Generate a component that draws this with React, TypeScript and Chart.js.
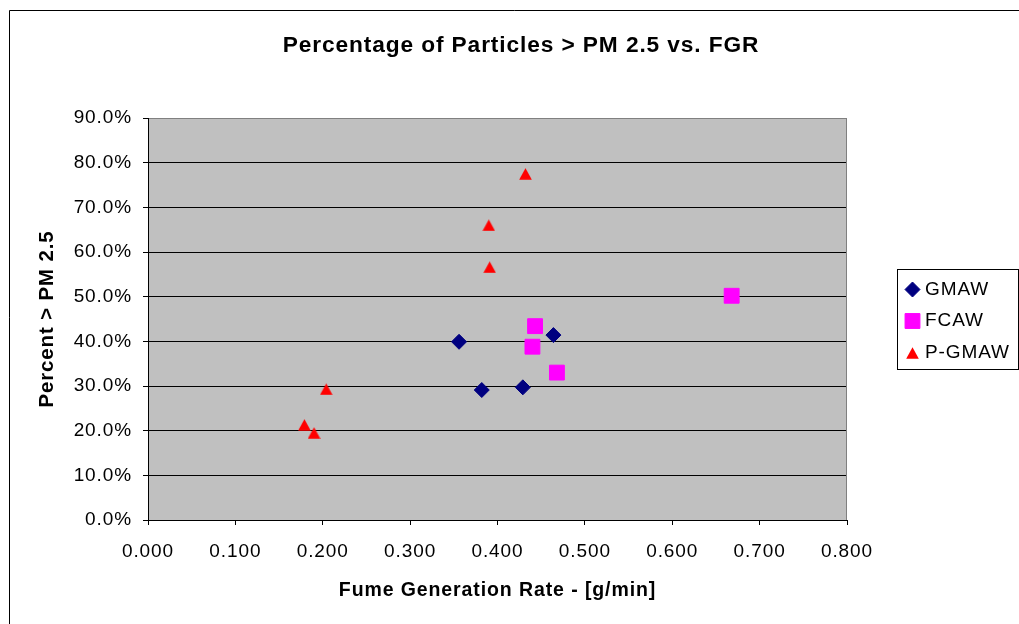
import React, { useEffect, useRef } from 'react';
import { Chart, registerables } from 'chart.js';
import { drawPoint } from 'chart.js/helpers';

Chart.register(...registerables);

// ---- data ----
const chartTitle = 'Percentage of Particles > PM 2.5 vs. FGR';
const xAxisTitle = 'Fume Generation Rate - [g/min]';
const yAxisTitle = 'Percent > PM 2.5';
const seriesNames = ['GMAW', 'FCAW', 'P-GMAW'];

const gmawX = [0.356, 0.382, 0.429, 0.464];
const gmawY = [39.9, 29.1, 29.7, 41.4];
const fcawX = [0.443, 0.44, 0.468, 0.668];
const fcawY = [43.4, 38.8, 33.0, 50.2];
const pgmawX = [0.432, 0.39, 0.391, 0.204, 0.179, 0.19];
const pgmawY = [77.5, 66.0, 56.6, 29.3, 21.3, 19.5];

const xMin = 0;
const xMax = 0.8;
const xStep = 0.1;
const yMin = 0;
const yMax = 90;
const yStep = 10;

// ---- styles ----
const FONT = "'Liberation Sans', Arial, Helvetica, sans-serif";
const SPACING = '0.9px';
const colors = ['#000080', '#FF00FF', '#FF0000'];
const radii = [7.5, 10.5, 6.7];

const toPoints = (xs: number[], ys: number[]) => xs.map((x, i) => ({ x, y: ys[i] }));

// triangle marker centred on its bounding box (like the original)
function makeTriangle(color: string): HTMLCanvasElement {
  const c = document.createElement('canvas');
  c.width = 13;
  c.height = 12;
  const g = c.getContext('2d')!;
  g.fillStyle = color;
  g.beginPath();
  g.moveTo(6.5, 0.3);
  g.lineTo(12.8, 11.7);
  g.lineTo(0.2, 11.7);
  g.closePath();
  g.fill();
  return c;
}

const decor = {
  id: 'decor',
  beforeUpdate(chart: any) {
    chart.ctx.letterSpacing = SPACING;
  },
  beforeDraw(chart: any) {
    const { ctx, chartArea: a, width, height } = chart;
    ctx.letterSpacing = SPACING;
    ctx.save();
    // outer border (cropped chart frame)
    ctx.strokeStyle = '#000';
    ctx.lineWidth = 1;
    ctx.beginPath();
    ctx.moveTo(9.5, height + 2);
    ctx.lineTo(9.5, 10.5);
    ctx.lineTo(width + 2, 10.5);
    ctx.stroke();
    // plot background
    ctx.fillStyle = '#C0C0C0';
    ctx.fillRect(a.left, a.top, a.right - a.left, a.bottom - a.top);
    // title
    ctx.fillStyle = '#000';
    ctx.font = `bold 22.7px ${FONT}`;
    ctx.textAlign = 'center';
    ctx.textBaseline = 'middle';
    ctx.fillText(chartTitle, 521, 46);
    ctx.restore();
  },
  beforeDatasetsDraw(chart: any) {
    const { ctx, chartArea: a } = chart;
    ctx.save();
    ctx.strokeStyle = '#808080';
    ctx.lineWidth = 1;
    ctx.beginPath();
    const xr = Math.round(a.right) - 0.5;
    ctx.moveTo(xr, Math.round(a.top) + 0.5);
    ctx.lineTo(xr, Math.round(a.bottom));
    ctx.stroke();
    ctx.restore();
  },
  afterDraw(chart: any) {
    const { ctx } = chart;
    ctx.save();
    ctx.strokeStyle = '#000';
    ctx.lineWidth = 1;
    ctx.strokeRect(897.5, 269.5, 121, 100);
    const rowsY = [289.5, 321, 353];
    chart.data.datasets.forEach((ds: any, i: number) => {
      ctx.fillStyle = ds.backgroundColor;
      ctx.strokeStyle = ds.borderColor;
      ctx.lineWidth = ds.borderWidth;
      drawPoint(ctx, { pointStyle: ds.pointStyle, radius: ds.pointRadius, borderWidth: ds.borderWidth, rotation: 0 } as any, 912.5, rowsY[i]);
      ctx.fillStyle = '#000';
      ctx.font = `19px ${FONT}`;
      ctx.textAlign = 'left';
      ctx.textBaseline = 'middle';
      ctx.fillText(ds.label, 925, rowsY[i]);
    });
    ctx.restore();
  },
};

export default function App() {
  const canvasRef = useRef<HTMLCanvasElement | null>(null);

  useEffect(() => {
    const canvas = canvasRef.current;
    if (!canvas) return;
    const xs = [gmawX, fcawX, pgmawX];
    const ys = [gmawY, fcawY, pgmawY];
    const styles: any[] = ['rectRot', 'rect', makeTriangle(colors[2])];
    const chart = new Chart(canvas, {
      type: 'scatter',
      data: {
        datasets: seriesNames.map((name, i) => ({
          label: name,
          data: toPoints(xs[i], ys[i]),
          backgroundColor: colors[i],
          borderColor: colors[i],
          borderWidth: 1,
          pointStyle: styles[i],
          pointRadius: radii[i],
          pointHoverRadius: radii[i],
          showLine: false,
        })),
      },
      options: {
        animation: false,
        responsive: false,
        maintainAspectRatio: false,
        devicePixelRatio: 1,
        events: [],
        layout: { padding: { left: 20, right: 172, top: 118, bottom: 10 } },
        plugins: {
          legend: { display: false },
          title: { display: false },
          tooltip: { enabled: false },
        },
        scales: {
          x: {
            type: 'linear',
            min: xMin,
            max: xMax,
            afterFit: (s: any) => {
              s.height = 94;
            },
            ticks: {
              stepSize: xStep,
              autoSkip: false,
              maxRotation: 0,
              padding: 15.3,
              color: '#000',
              font: { family: FONT, size: 19 },
              callback: (v: any) => Number(v).toFixed(3),
            },
            grid: {
              drawOnChartArea: false,
              drawTicks: true,
              tickLength: 5,
              tickColor: '#000',
              color: '#000',
            },
            border: { display: true, color: '#000', width: 1 },
            title: {
              display: true,
              text: xAxisTitle,
              color: '#000',
              font: { family: FONT, size: 19.5, weight: 'bold' },
              padding: { top: 0, bottom: 12 },
            },
          },
          y: {
            type: 'linear',
            min: yMin,
            max: yMax,
            afterFit: (s: any) => {
              s.width = 128;
            },
            ticks: {
              stepSize: yStep,
              padding: 11,
              color: '#000',
              font: { family: FONT, size: 19 },
              callback: (v: any) => Number(v).toFixed(1) + '%',
            },
            grid: {
              drawTicks: true,
              tickLength: 5,
              tickColor: '#000',
              color: (c: any) => (c.tick && Math.abs(c.tick.value - yMax) < 1e-6 ? '#808080' : '#000'),
            },
            border: { display: true, color: '#000', width: 1 },
            title: {
              display: true,
              text: yAxisTitle,
              color: '#000',
              font: { family: FONT, size: 20.4, weight: 'bold' },
              padding: { top: 15.3, bottom: 0 },
            },
          },
        },
      },
      plugins: [decor],
    });
    return () => chart.destroy();
  }, []);

  return (
    <div style={{ position: 'absolute', left: 0, top: 0, width: 1019, height: 624 }}>
      <canvas ref={canvasRef} width={1019} height={624} />
    </div>
  );
}
